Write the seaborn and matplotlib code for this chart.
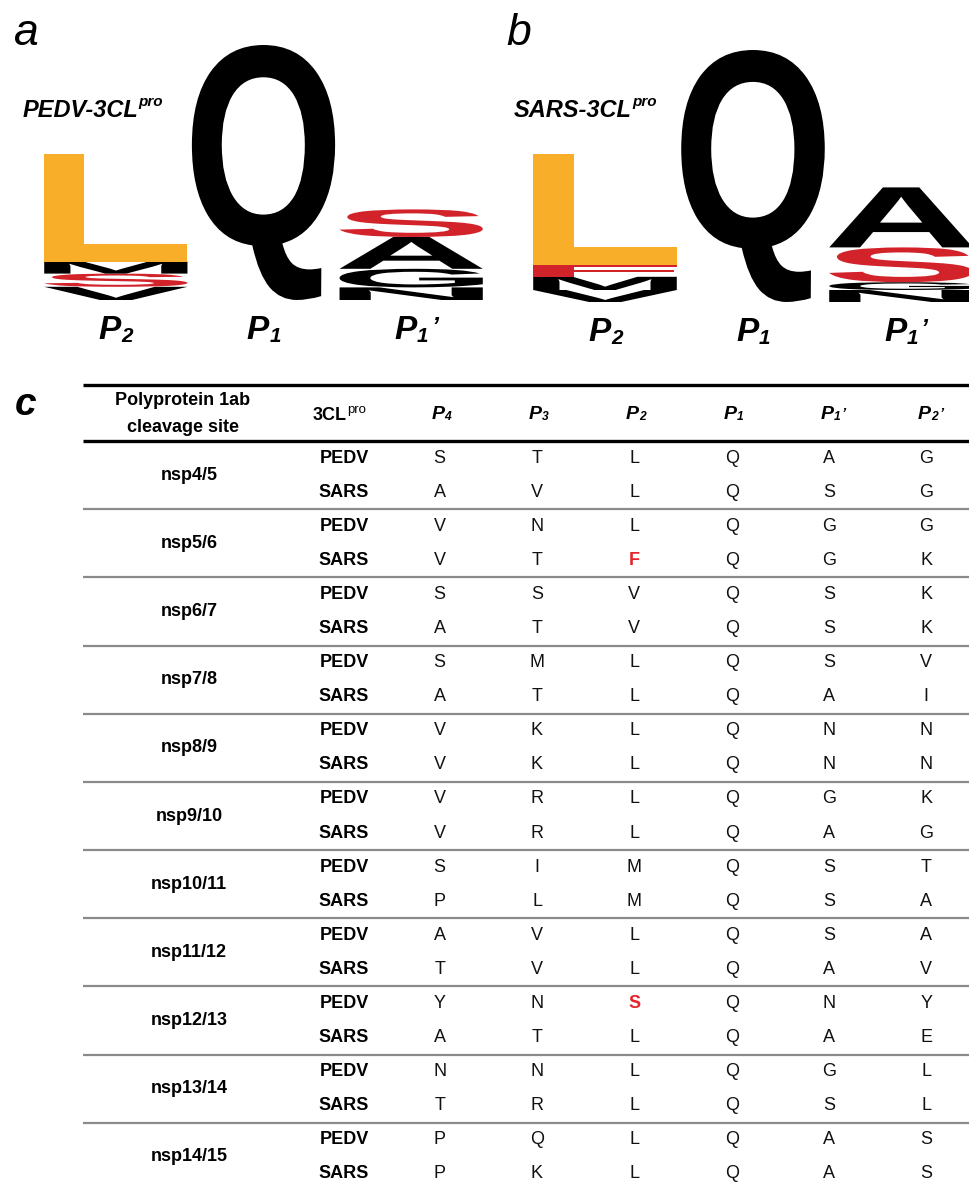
import numpy as np
import seaborn as sns
import matplotlib.pyplot as plt
from matplotlib.colors import ListedColormap
from matplotlib.font_manager import FontProperties
from matplotlib.patches import PathPatch
from matplotlib.textpath import TextPath
from matplotlib.transforms import Affine2D

sns.set_theme(style="white")
plt.rcParams['font.family'] = ['Liberation Sans', 'DejaVu Sans']
plt.rcParams['text.color'] = 'black'

# --- sequence logos: letters stacked bottom -> top, heights in bits ---
logo_subs = ["2", "1", "1"]
logo_primes = [False, False, True]

pedv_P2_letters = ["V", "S", "M", "L"]
pedv_P2_bits = [0.22, 0.22, 0.20, 1.80]
pedv_P1_letters = ["Q"]
pedv_P1_bits = [4.25]
pedv_P1p_letters = ["N", "G", "A", "S"]
pedv_P1p_bits = [0.21, 0.31, 0.53, 0.46]

sars_P2_letters = ["V", "M", "F", "L"]
sars_P2_bits = [0.20, 0.22, 0.20, 1.84]
sars_P1_letters = ["Q"]
sars_P1_bits = [4.20]
sars_P1p_letters = ["N", "G", "S", "A"]
sars_P1p_bits = [0.20, 0.13, 0.58, 1.00]

letter_colors = {"L": "#F9AE2A", "S": "#D2232A", "F": "#D2232A"}

# --- cleavage site table ---
sites = ["nsp4/5", "nsp5/6", "nsp6/7", "nsp7/8", "nsp8/9", "nsp9/10",
         "nsp10/11", "nsp11/12", "nsp12/13", "nsp13/14", "nsp14/15"]
pedv_seq = ["STLQAG", "VNLQGG", "SSVQSK", "SMLQSV", "VKLQNN", "VRLQGK",
            "SIMQST", "AVLQSA", "YNSQNY", "NNLQGL", "PQLQAS"]
sars_seq = ["AVLQSG", "VTFQGK", "ATVQSK", "ATLQAI", "VKLQNN", "VRLQAG",
            "PLMQSA", "TVLQAV", "ATLQAE", "TRLQSL", "PKLQAS"]
pos_subs = ["4", "3", "2", "1", "1", "2"]
pos_primes = [False, False, False, False, True, True]
# (site, protease, column) shown in red
highlights = [("nsp5/6", "SARS", 2), ("nsp12/13", "PEDV", 2)]

W, H = 970, 1188
fig = plt.figure(figsize=(W / 100, H / 100), dpi=100)


def rect(x0, y0, x1, y1):
    return [x0 / W, 1 - y1 / H, (x1 - x0) / W, (y1 - y0) / H]


def p_label(ax, x, y, sub, size, prime=False):
    kw = dict(fontweight="bold", fontstyle="italic", color="black", annotation_clip=False)
    t = ax.text(x, y, "P", fontsize=size, ha="center", va="baseline",
                fontweight="bold", fontstyle="italic", clip_on=False)
    s = ax.annotate(sub, xy=(1, 0), xycoords=t, xytext=(0.02 * size, 0),
                    textcoords="offset points", fontsize=size * 0.62,
                    ha="left", va="bottom", **kw)
    if prime:
        ax.annotate("\u2019", xy=(1, 1), xycoords=(s, t), xytext=(0.08 * size, -0.02 * size),
                    textcoords="offset points", fontsize=size * 0.75,
                    ha="left", va="top", **kw)


logo_font = FontProperties(family="Liberation Sans", weight="bold")


def draw_logo(ax, columns):
    for i, (letters, bits) in enumerate(columns):
        y0 = 0.0
        for letter, h in zip(letters, bits):
            tp = TextPath((0, 0), letter, size=1, prop=logo_font)
            bb = tp.get_extents()
            w = 0.97
            tr = (Affine2D().translate(-bb.x0, -bb.y0)
                  .scale(w / bb.width, h / bb.height)
                  .translate(i - w / 2, y0))
            ax.add_patch(PathPatch(tr.transform_path(tp), lw=0,
                                   fc=letter_colors.get(letter, "black")))
            y0 += h
    ax.set_xlim(-0.5, 2.5)
    ax.set_ylim(0, 4.4)
    ax.axis("off")
    for i in range(3):
        p_label(ax, i - 0.04, -0.65, logo_subs[i], 24, logo_primes[i])


ax_a = fig.add_axes(rect(42, 36, 485, 300))
draw_logo(ax_a, [(pedv_P2_letters, pedv_P2_bits), (pedv_P1_letters, pedv_P1_bits),
                 (pedv_P1p_letters, pedv_P1p_bits)])
ax_b = fig.add_axes(rect(531, 38, 975, 302))
draw_logo(ax_b, [(sars_P2_letters, sars_P2_bits), (sars_P1_letters, sars_P1_bits),
                 (sars_P1p_letters, sars_P1p_bits)])

for ax, name, x in [(ax_a, "PEDV-3CL", 23), (ax_b, "SARS-3CL", 514)]:
    t = ax.text(x / W, 1 - 117 / H, name, transform=fig.transFigure, fontsize=17,
                fontweight="bold", fontstyle="italic", va="baseline", ha="left")
    ax.annotate("pro", xy=(1, 1), xycoords=t, xytext=(0, 3), textcoords="offset points",
                fontsize=11, fontweight="bold", fontstyle="italic", ha="left", va="top",
                annotation_clip=False)

fig.text(14 / W, 1 - 45 / H, "a", fontsize=32, fontstyle="italic")
fig.text(506 / W, 1 - 45 / H, "b", fontsize=32, fontstyle="italic")
fig.text(15 / W, 1 - 415 / H, "c", fontsize=28, fontstyle="italic", fontweight="bold")

# --- table drawn as an annotated seaborn heatmap ---
rows = []
for p, s in zip(pedv_seq, sars_seq):
    rows.append(list(p))
    rows.append(list(s))
annot = np.array(rows)
ax_h = fig.add_axes(rect(391, 441, 975, 1191))
sns.heatmap(np.zeros(annot.shape), cmap=ListedColormap(["white"]), cbar=False,
            annot=annot, fmt="", annot_kws=dict(fontsize=13, color="#111111"),
            xticklabels=False, yticklabels=False, ax=ax_h)
ax_h.axis("off")

red_cells = [(sites.index(site) * 2 + (0 if prot == "PEDV" else 1), col)
             for site, prot, col in highlights]
ncol = annot.shape[1]
for idx, t in enumerate(ax_h.texts):
    if (idx // ncol, idx % ncol) in red_cells:
        t.set_color("#E3242B")
        t.set_fontweight("bold")

x_site, x_prot = -2.075, -0.483
for k, site in enumerate(sites):
    ax_h.text(x_site, 2 * k + 1, site, ha="center", va="center", fontsize=13,
              fontweight="bold", clip_on=False)
    ax_h.text(x_prot, 2 * k + 0.5, "PEDV", ha="center", va="center", fontsize=13,
              fontweight="bold", clip_on=False)
    ax_h.text(x_prot, 2 * k + 1.5, "SARS", ha="center", va="center", fontsize=13,
              fontweight="bold", clip_on=False)

ax_h.text(-2.137, -1.056, "Polyprotein 1ab", ha="center", va="baseline", fontsize=13,
          fontweight="bold", clip_on=False)
ax_h.text(-2.137, -0.264, "cleavage site", ha="center", va="baseline", fontsize=13,
          fontweight="bold", clip_on=False)
t3 = ax_h.text(-0.627, -0.616, "3CL", ha="center", va="baseline", fontsize=13,
               fontweight="bold", clip_on=False)
ax_h.annotate("pro", xy=(1, 1), xycoords=t3, xytext=(0, 2), textcoords="offset points",
              fontsize=9.5, ha="left", va="top", annotation_clip=False)
for j in range(ncol):
    p_label(ax_h, j + 0.5 - 0.02, -0.645, pos_subs[j], 14, pos_primes[j])

x0, x1 = -3.164, 6.2
ax_h.hlines([-1.643, 0], x0, x1, color="black", lw=2.4, clip_on=False)
ax_h.hlines(np.arange(2, 22, 2), x0, x1, color="#8a8a8a", lw=1.6, clip_on=False)

fig.savefig("out.png", dpi=100)
